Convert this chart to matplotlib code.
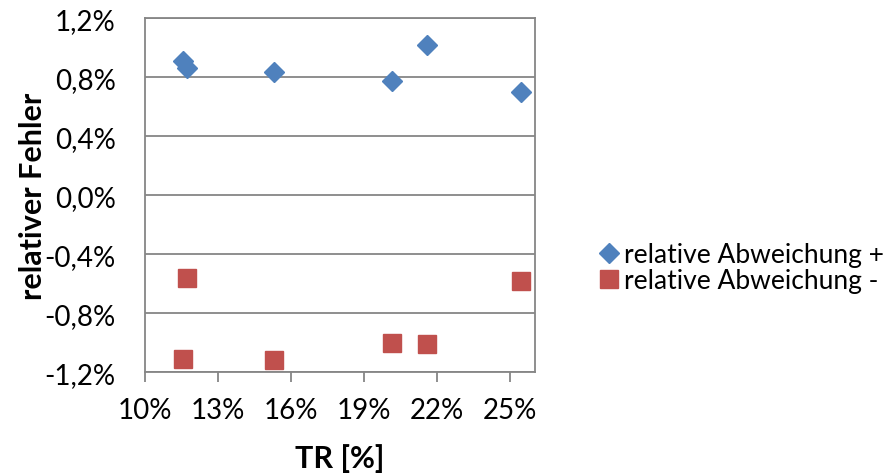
import matplotlib.pyplot as plt
from matplotlib.ticker import FuncFormatter, MultipleLocator

# TR values [%] and relative errors [%]
tr_plus = [11.55, 11.73, 15.30, 20.16, 21.56, 25.44]
err_plus = [0.908, 0.861, 0.836, 0.773, 1.019, 0.702]
tr_minus = [11.71, 11.56, 15.31, 20.16, 21.56, 25.44]
err_minus = [-0.561, -1.108, -1.115, -1.001, -1.010, -0.581]
x_ticks = [10, 13, 16, 19, 22, 25]

plt.rcParams['font.family'] = ['Lato', 'DejaVu Sans']
grey = '#868686'

fig = plt.figure(figsize=(8.91, 4.77), dpi=100)
ax = fig.add_axes([0.1627, 0.2172, 0.4374, 0.7423])

ax.plot(tr_plus, err_plus, 'D', color='#4F81BD', markersize=10.5, label='relative Abweichung +')
ax.plot(tr_minus, err_minus, 's', color='#C0504D', markersize=13.5, label='relative Abweichung -')

ax.set_xlim(10, 26)
ax.set_ylim(-1.2, 1.2)
ax.set_xticks(x_ticks)
ax.yaxis.set_major_locator(MultipleLocator(0.4))
ax.xaxis.set_major_formatter(FuncFormatter(lambda v, p: f'{v:.0f}%'))
ax.yaxis.set_major_formatter(FuncFormatter(lambda v, p: f'{v:.1f}%'.replace('.', ',')))
ax.grid(axis='y', color=grey, lw=1.3)
ax.set_axisbelow(True)
for s in ax.spines.values():
    s.set_color(grey)
    s.set_linewidth(1.3)
ax.tick_params(axis='x', direction='out', length=7, width=1.3, color=grey, labelsize=20, pad=11)
ax.tick_params(axis='y', direction='in', length=0, labelsize=20, pad=21)

ax.set_xlabel('TR [%]', fontsize=22, fontweight='bold', labelpad=14)
ax.set_ylabel('relativer Fehler', fontsize=22, fontweight='bold', labelpad=-2)

ax.legend(loc='center left', bbox_to_anchor=(0.657, 0.437), bbox_transform=fig.transFigure,
          frameon=False, fontsize=19, handletextpad=0.05, labelspacing=0.04,
          handlelength=1.0, borderaxespad=0)

fig.savefig('out.png', dpi=100)
